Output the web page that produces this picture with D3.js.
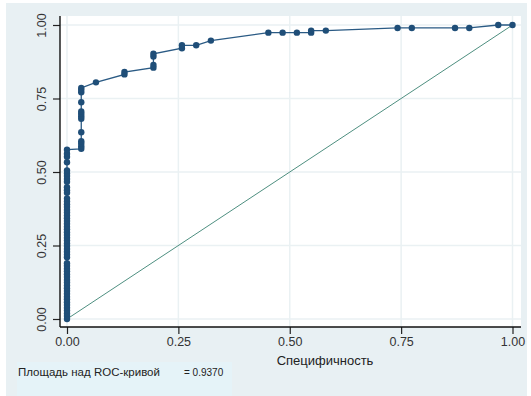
<!DOCTYPE html>
<html>
<head>
<meta charset="utf-8">
<script src="https://cdn.jsdelivr.net/npm/d3@7"></script>
<style>
  html, body { margin: 0; padding: 0; background: #ffffff; }
  svg { display: block; }
  text { font-family: "Liberation Sans", Arial, sans-serif; }
</style>
</head>
<body>
<svg id="chart" width="531" height="396"></svg>
<script>
// ROC curve: false-positive fraction (x) and true-positive fraction (y)
const rocX = [
  0, 0, 0, 0, 0, 0, 0, 0, 0, 0,
  0, 0, 0, 0, 0, 0, 0, 0, 0, 0,
  0, 0, 0, 0, 0, 0, 0, 0, 0, 0,
  0, 0, 0, 0, 0, 0, 0, 0, 0, 0,
  0, 0, 0, 0, 0, 0, 0, 0, 0, 0,
  0, 0, 0, 0, 0,
  0.032, 0.032, 0.032, 0.032, 0.032, 0.032, 0.032, 0.032, 0.032, 0.032,
  0.032, 0.032, 0.032,
  0.065, 0.129, 0.129, 0.194, 0.194, 0.194, 0.194,
  0.258, 0.258, 0.290, 0.323, 0.452, 0.484, 0.516, 0.548, 0.548, 0.581,
  0.742, 0.774, 0.871, 0.903, 0.968, 1.000
];
const rocY = [
  0.000, 0.010, 0.019, 0.029, 0.038, 0.048, 0.057, 0.067, 0.076, 0.086,
  0.095, 0.105, 0.114, 0.124, 0.133, 0.143, 0.152, 0.162, 0.171, 0.181,
  0.190, 0.210, 0.219, 0.229, 0.238, 0.248, 0.257, 0.267, 0.276, 0.286,
  0.295, 0.305, 0.314, 0.324, 0.333, 0.343, 0.352, 0.362, 0.371, 0.381,
  0.390, 0.400, 0.410, 0.429, 0.438, 0.448, 0.467, 0.476, 0.486, 0.495,
  0.505, 0.533, 0.552, 0.562, 0.576,
  0.579, 0.588, 0.597, 0.605, 0.635, 0.681, 0.690, 0.698, 0.706, 0.737,
  0.771, 0.779, 0.786,
  0.805, 0.832, 0.840, 0.855, 0.864, 0.893, 0.902,
  0.921, 0.931, 0.931, 0.947, 0.974, 0.974, 0.974, 0.974, 0.981, 0.981,
  0.990, 0.990, 0.990, 0.990, 1.000, 1.000
];

// Chance (reference) line
const diagX = [0, 1];
const diagY = [0, 1];

// Axis ticks
const xTicks = [0, 0.25, 0.5, 0.75, 1];
const yTicks = [0, 0.25, 0.5, 0.75, 1];

const xTitle = "Специфичность";
const areaLabel = "Площадь над ROC-кривой";
const areaValue = "= 0.9370";

const svg = d3.select("#chart");

// Outer graph region
svg.append("rect")
  .attr("x", 6).attr("y", 3).attr("width", 521).attr("height", 393)
  .attr("fill", "#e8f0f3");

// Soft panel behind the area note
svg.append("rect")
  .attr("x", 17).attr("y", 362).attr("width", 215).attr("height", 34)
  .attr("fill", "#e5f3f8");

// Plot region
const plot = { left: 60, right: 521, top: 16, bottom: 327 };
svg.append("rect")
  .attr("x", plot.left).attr("y", plot.top)
  .attr("width", plot.right - plot.left).attr("height", plot.bottom - plot.top)
  .attr("fill", "#ffffff");

const x = d3.scaleLinear().domain([0, 1]).range([67, 512.5]);
const y = d3.scaleLinear().domain([0, 1]).range([319, 25]);

// Grid lines
const grid = svg.append("g").attr("stroke", "#eaf1f3").attr("stroke-width", 1.5);
grid.selectAll("line.v").data(xTicks).join("line")
  .attr("class", "v")
  .attr("x1", d => x(d)).attr("x2", d => x(d))
  .attr("y1", plot.top).attr("y2", plot.bottom);
grid.selectAll("line.h").data(yTicks).join("line")
  .attr("class", "h")
  .attr("x1", plot.left).attr("x2", plot.right)
  .attr("y1", d => y(d)).attr("y2", d => y(d));

// Diagonal reference line
svg.append("path")
  .datum(diagX.map((d, i) => [d, diagY[i]]))
  .attr("fill", "none")
  .attr("stroke", "#4e8f80")
  .attr("stroke-width", 1)
  .attr("d", d3.line().x(d => x(d[0])).y(d => y(d[1])));

// ROC curve
const pts = rocX.map((d, i) => [d, rocY[i]]);
svg.append("path")
  .datum(pts)
  .attr("fill", "none")
  .attr("stroke", "#2a5a84")
  .attr("stroke-width", 1.3)
  .attr("d", d3.line().x(d => x(d[0])).y(d => y(d[1])));

svg.append("g").selectAll("circle").data(pts).join("circle")
  .attr("cx", d => x(d[0]))
  .attr("cy", d => y(d[1]))
  .attr("r", 3.2)
  .attr("fill", "#1f4e78");

// X axis
const xAxis = svg.append("g")
  .attr("transform", `translate(0,${plot.bottom})`)
  .call(d3.axisBottom(x).tickValues(xTicks).tickFormat(d3.format(".2f"))
    .tickSize(7).tickSizeOuter(0));
xAxis.select(".domain").remove();
xAxis.append("line")
  .attr("x1", plot.left).attr("x2", plot.right)
  .attr("y1", 0).attr("y2", 0)
  .attr("stroke", "#111").attr("stroke-width", 1.4);
xAxis.selectAll(".tick line").attr("stroke", "#222").attr("stroke-width", 1.2);
xAxis.selectAll(".tick text")
  .attr("y", 10)
  .attr("fill", "#333")
  .style("font-size", "12.5px");

// Y axis
const yAxis = svg.append("g")
  .attr("transform", `translate(${plot.left},0)`)
  .call(d3.axisLeft(y).tickValues(yTicks).tickFormat(d3.format(".2f"))
    .tickSize(7).tickSizeOuter(0));
yAxis.select(".domain").remove();
yAxis.append("line")
  .attr("x1", 0).attr("x2", 0)
  .attr("y1", plot.top).attr("y2", plot.bottom)
  .attr("stroke", "#111").attr("stroke-width", 1.4);
yAxis.selectAll(".tick line").attr("stroke", "#222").attr("stroke-width", 1.2);
yAxis.selectAll(".tick text")
  .attr("x", 0).attr("y", 0).attr("dy", null)
  .attr("text-anchor", "middle")
  .attr("dominant-baseline", "central")
  .attr("transform", "translate(-18,0) rotate(-90)")
  .attr("fill", "#333")
  .style("font-size", "12.5px");

// Axis title
svg.append("text")
  .attr("x", 325).attr("y", 365)
  .attr("text-anchor", "middle")
  .attr("fill", "#222")
  .style("font-size", "13px")
  .text(xTitle);

// Area note
svg.append("text")
  .attr("x", 18).attr("y", 376)
  .attr("fill", "#222")
  .style("font-size", "11.5px")
  .text(areaLabel);
svg.append("text")
  .attr("x", 184).attr("y", 376)
  .attr("fill", "#222")
  .style("font-size", "10px")
  .text(areaValue);
</script>
</body>
</html>
